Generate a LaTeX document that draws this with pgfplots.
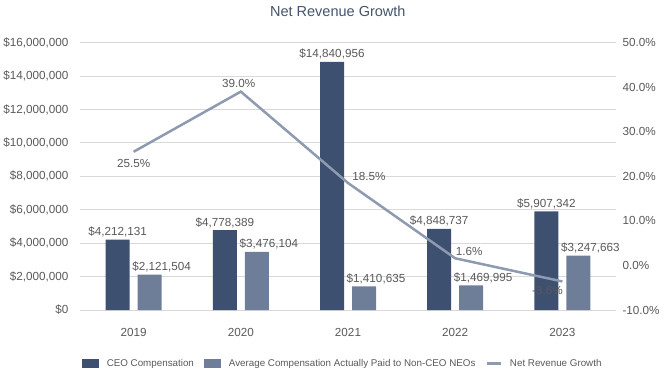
\documentclass[border=0pt]{standalone}
\usepackage{pgfplots}
\pgfplotsset{compat=1.18}
\usepackage{fontspec}
\setmainfont{Liberation Sans}
\definecolor{ceo}{HTML}{3E5070}
\definecolor{avg}{HTML}{6F7E98}
\definecolor{lin}{HTML}{8E9AB0}
\definecolor{txt}{HTML}{595959}
\definecolor{gridc}{HTML}{D9D9D9}
\definecolor{ttl}{HTML}{44546A}
\newcommand{\tf}{\fontsize{11.7}{13}\selectfont}
\begin{document}
\begin{tikzpicture}[x=1pt,y=1pt]
\path[use as bounding box] (0,0) rectangle (666,372);
\begin{axis}[
  at={(80pt,62pt)}, anchor=south west, scale only axis,
  width=536pt, height=267.4pt,
  xmin=-0.5, xmax=4.5, ymin=0, ymax=16000000,
  axis line style={draw=none}, major tick length=0pt,
  xtick={0,1,2,3,4}, xticklabels={2019,2020,2021,2022,2023},
  xticklabel style={font=\tf, text=txt, yshift=-15pt},
  ytick={0,2000000,4000000,6000000,8000000,10000000,12000000,14000000,16000000},
  yticklabels={\$0,{\$2,000,000},{\$4,000,000},{\$6,000,000},{\$8,000,000},{\$10,000,000},{\$12,000,000},{\$14,000,000},{\$16,000,000}},
  yticklabel style={font=\tf, text=txt, xshift=-8pt},
  scaled y ticks=false,
  ymajorgrids, grid style={gridc, line width=0.9pt},
  title={Net Revenue Growth},
  title style={font=\fontsize{14.5}{16}\selectfont, text=ttl, at={(0.481,1.0)}, anchor=center, yshift=25pt},
  legend style={draw=none, fill=none, legend columns=3, font=\fontsize{9.8}{11}\selectfont, text=txt,
    at={(0.49,-0.1995)}, anchor=center, inner sep=0pt,
    /tikz/every odd column/.append style={column sep=6pt},
    /tikz/every even column/.append style={column sep=8pt}},
  clip=false,
]
\addplot[ybar, bar width=24pt, bar shift=-16pt, fill=ceo, draw=none,
  legend image code/.code={\fill[ceo] (0pt,-4.5pt) rectangle (17pt,4.5pt);}]
  coordinates {(0,4212131) (1,4778389) (2,14840956) (3,4848737) (4,5907342)};
\addlegendentry{CEO Compensation}
\addplot[ybar, bar width=24pt, bar shift=16pt, fill=avg, draw=none,
  legend image code/.code={\fill[avg] (0pt,-4.5pt) rectangle (17pt,4.5pt);}]
  coordinates {(0,2121504) (1,3476104) (2,1410635) (3,1469995) (4,3247663)};
\addlegendentry{Average Compensation Actually Paid to Non-CEO NEOs}
\addlegendimage{legend image code/.code={\draw[lin, line width=2.5pt] (0pt,0pt) -- (14pt,0pt);}}
\addlegendentry{Net Revenue Growth}
% value labels drawn on top
\addplot[draw=none, mark=none, forget plot, xshift=-16pt,
  point meta=explicit symbolic, nodes near coords,
  nodes near coords style={font=\tf, text=txt, anchor=base, inner sep=0pt, yshift=4pt}]
  coordinates {(0,4212131) [\$4,212,131] (1,4778389) [\$4,778,389] (2,14840956) [\$14,840,956] (3,4848737) [\$4,848,737] (4,5907342) [\$5,907,342]};
\addplot[draw=none, mark=none, forget plot, xshift=28pt,
  point meta=explicit symbolic, nodes near coords,
  nodes near coords style={font=\tf, text=txt, anchor=base, inner sep=0pt, yshift=4pt}]
  coordinates {(0,2121504) [\$2,121,504] (1,3476104) [\$3,476,104] (2,1410635) [\$1,410,635] (3,1469995) [\$1,469,995] (4,3247663) [\$3,247,663]};
\end{axis}
\begin{axis}[
  at={(80pt,62pt)}, anchor=south west, scale only axis,
  width=536pt, height=267.4pt,
  xmin=-0.5, xmax=4.5, ymin=-10, ymax=50,
  axis x line=none, axis y line*=right,
  axis line style={draw=none}, major tick length=0pt,
  ytick={-10,0,10,20,30,40,50},
  yticklabels={-10.0\%,0.0\%,10.0\%,20.0\%,30.0\%,40.0\%,50.0\%},
  yticklabel style={font=\tf, text=txt, xshift=3pt},
  clip=false,
]
\addplot[lin, line width=2.5pt] coordinates {(0,25.5) (1,39.0) (2,18.5) (3,1.6) (4,-3.6)};
\node[font=\tf, text=txt] at (axis cs:0,25.5) [yshift=-11.6pt] {25.5\%};
\node[font=\tf, text=txt] at (axis cs:1,39.0) [yshift=8pt, xshift=-2pt] {39.0\%};
\node[font=\tf, text=txt] at (axis cs:2,18.5) [yshift=7pt, xshift=21pt] {18.5\%};
\node[font=\tf, text=txt] at (axis cs:3,1.6) [yshift=7pt, xshift=14pt] {1.6\%};
\node[font=\tf, text=txt] at (axis cs:4,-3.6) [yshift=-8.6pt, xshift=-15pt] {-3.6\%};
\end{axis}
\end{tikzpicture}
\end{document}
